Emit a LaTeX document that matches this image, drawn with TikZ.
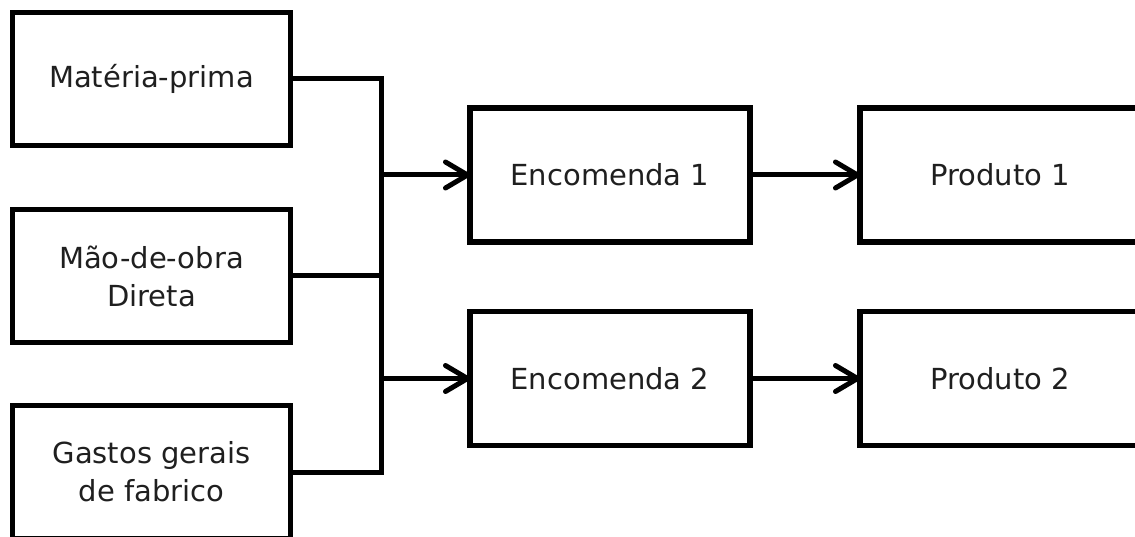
\documentclass[tikz,border=0pt]{standalone}
\usepackage{fontspec}
\setmainfont{DejaVu Sans}
\usetikzlibrary{arrows.meta}
\begin{document}
\begin{tikzpicture}[x=1pt,y=-1pt,
  box/.style={draw=black, line width=5.5pt, minimum width=278pt, minimum height=133pt,
    inner sep=0pt, outer sep=0pt, align=center, text=black!88,
    font=\fontsize{29}{38}\selectfont},
  conn/.style={line width=5pt, draw=black},
  arr/.style={conn, -{Straight Barb[length=22pt,width=26pt,line cap=round,line join=round]}}]
\useasboundingbox (0,0) rectangle (1135,537);
\clip (0,0) rectangle (1135,537);
\node[box] (m1) at (151.5,79) {Matéria-prima};
\node[box] (m2) at (151.5,276) {Mão-de-obra\\Direta};
\node[box] (m3) at (151.5,472) {Gastos gerais\\de fabrico};
\node[box, minimum width=280pt, minimum height=134pt] (e1) at (610,175) {Encomenda 1};
\node[box, minimum width=280pt, minimum height=134pt] (e2) at (610,378.5) {Encomenda 2};
\node[box, minimum width=280pt, minimum height=134pt] (p1) at (1000,175) {Produto 1};
\node[box, minimum width=280pt, minimum height=134pt] (p2) at (1000,378.5) {Produto 2};
\coordinate (bus) at (381,0);
\draw[conn, line join=miter] (m1.east) -| (m3.east -| bus) -- (m3.east);
\draw[conn] (m2.east) -- (m2.east -| bus);
\draw[arr] (e1.west -| bus) -- (e1.west);
\draw[arr] (e2.west -| bus) -- (e2.west);
\draw[arr] (e1.east) -- (p1.west);
\draw[arr] (e2.east) -- (p2.west);
\end{tikzpicture}
\end{document}
